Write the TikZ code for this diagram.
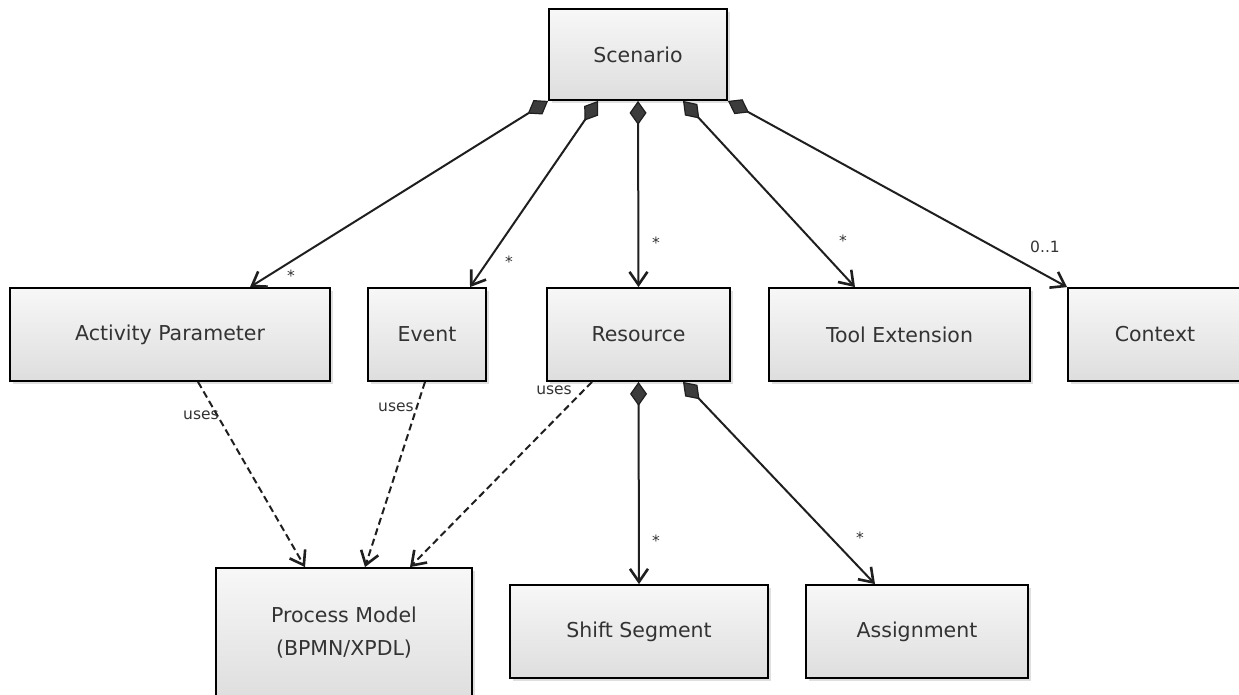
\documentclass[tikz,border=0pt]{standalone}
\usepackage{fontspec}
\setmainfont{DejaVu Sans}
\usetikzlibrary{arrows.meta,shadows,calc}
\definecolor{txt}{HTML}{333333}
\definecolor{dia}{HTML}{3C3C3C}
\begin{document}
\begin{tikzpicture}[x=1pt,y=-1pt,
 box/.style={draw=black, line width=1.8pt, rectangle, top color=white!97!black, bottom color=black!13,
   drop shadow={shadow xshift=3pt, shadow yshift=-3pt, opacity=0.25},
   text=txt, font=\fontsize{20.5}{24}\selectfont, inner sep=0pt},
 comp/.style={line width=2pt, draw=black!88,
   {Diamond[length=24pt,width=17pt,fill=dia,line width=1.2pt]}-{Straight Barb[length=13pt,width=18pt,line width=2.6pt]}},
 dep/.style={line width=2pt, draw=black!88, dash pattern=on 7pt off 4pt,
   -{Straight Barb[length=13pt,width=18pt,line width=2.6pt]}},
 mult/.style={text=txt, font=\fontsize{15.5}{18}\selectfont, inner sep=0pt}]
\useasboundingbox (0,0) rectangle (1239,694);

\node[box, minimum width=178pt, minimum height=91pt] (scen) at (638,54.5) {Scenario};
\node[box, minimum width=320pt, minimum height=93pt] (act) at (170,334.5) {Activity Parameter};
\node[box, minimum width=118pt, minimum height=93pt] (event) at (427,334.5) {Event};
\node[box, minimum width=183pt, minimum height=93pt] (res) at (638.5,334.5) {Resource};
\node[box, minimum width=261pt, minimum height=93pt] (tool) at (899.5,334.5) {Tool Extension};
\node[box, minimum width=174pt, minimum height=93pt] (ctx) at (1155,334.5) {Context};
\node[box, minimum width=256pt, minimum height=132pt] (pm) at (344,634)
  {\raisebox{5pt}{\begin{tabular}{@{}c@{}}Process Model\\[9pt](BPMN/XPDL)\end{tabular}}};
\node[box, minimum width=258pt, minimum height=93pt] (shift) at (639,631.5) {Shift Segment};
\node[box, minimum width=222pt, minimum height=93pt] (assign) at (917,631.5) {Assignment};

\draw[comp] (scen.south west) -- ([xshift=80pt]act.north);
\draw[comp] ([xshift=-40pt]scen.south) -- ([xshift=43pt]event.north);
\draw[comp] (scen.south) -- (res.north);
\draw[comp] ([xshift=45pt]scen.south) -- ([xshift=-44.5pt]tool.north);
\draw[comp] (scen.south east) -- (ctx.north west);
\draw[comp] (res.south) -- (shift.north);
\draw[comp] ([xshift=44.5pt]res.south) -- ([xshift=-42pt]assign.north);

\draw[dep] ([xshift=28pt]act.south) -- ([xshift=-39pt]pm.north);
\draw[dep] ([xshift=-2pt]event.south) -- ([xshift=21pt]pm.north);
\draw[dep] ([xshift=-46.5pt]res.south) -- ([xshift=66pt]pm.north);

\node[mult] (m1) at (291,276) {*};
\node[mult] (m2) at (509,262) {*};
\node[mult] (m3) at (656,243) {*};
\node[mult] (m4) at (843,241) {*};
\node[mult] (m5) at (1045,247) {0..1};
\node[mult] (m6) at (656,541) {*};
\node[mult] (m7) at (860,538) {*};
\node[mult] (u1) at (201,415) {uses};
\node[mult] (u2) at (396,407) {uses};
\node[mult] (u3) at (554,390) {uses};
\end{tikzpicture}
\end{document}
